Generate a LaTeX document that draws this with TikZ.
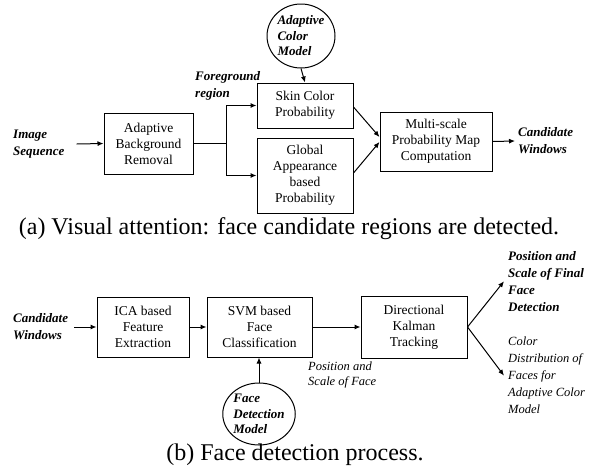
\documentclass[tikz,border=0pt]{standalone}
\usepackage{fontspec}
\setmainfont{Liberation Serif}
\usetikzlibrary{positioning,calc,shapes.geometric,arrows.meta}

\begin{document}
\begin{tikzpicture}[%
      x=1pt, y=-1pt,
      block/.style={rectangle, draw=black, line width=1pt, align=center, font=\fontsize{13.5}{16}\selectfont, inner sep=2pt},
      model/.style={ellipse, draw=black, line width=1pt, align=left, font=\fontsize{13}{15.5}\selectfont\bfseries\itshape, inner sep=0pt, minimum width=68pt, minimum height=64pt},
      bnote/.style={align=left, font=\fontsize{13}{17}\selectfont\bfseries\itshape, inner sep=0pt},
      note/.style={align=left, font=\fontsize{12.5}{15}\selectfont\itshape, inner sep=0pt},
      capt/.style={font=\fontsize{24}{27}\selectfont, inner sep=0pt},
      arrow/.style={-{Latex[length=6pt,width=5pt]}, line width=1pt, black}
    ]
      \useasboundingbox (0,0) rectangle (599,469);

      % Nodes (a)
      \node[model] (acm) at (301,36) {Adaptive\\Color\\Model};
      \node[block, minimum width=96pt, minimum height=45pt] (skin) at (305,105.5) {Skin Color\\Probability};
      \node[block, minimum width=96pt, minimum height=75pt] (glob) at (305,175.5) {Global\\Appearance\\based\\Probability};
      \node[block, minimum width=89pt, minimum height=61pt] (abr) at (148.5,143.5) {Adaptive\\Background\\Removal};
      \node[block, minimum width=112pt, minimum height=59pt] (msp) at (436,141.5) {Multi-scale\\Probability Map\\Computation};
      \node[bnote, anchor=west] (imgseq) at (13,144) {Image\\Sequence};
      \node[bnote, anchor=west] (fg) at (195,86) {Foreground\\region};
      \node[bnote, anchor=west] (cwa) at (518,141) {Candidate\\Windows};
      \coordinate (jn) at (226,143.5);
      \node[capt] (capa) at (289,229) {(a) Visual attention: face candidate regions are detected.};

      % Connections (a)
      \draw[arrow] ([xshift=12pt]imgseq.east) -- (abr.west);
      \draw[line width=1pt] (abr.east) -- (jn);
      \draw[arrow] (jn) |- (skin.west);
      \draw[arrow] (jn) |- (glob.west);
      \draw[arrow] (acm.south) -- (skin.north);
      \draw[arrow] ([yshift=-1.5pt]skin.east) -- ([yshift=4.5pt]msp.west);
      \draw[arrow] ([yshift=2.5pt]glob.east) -- ([yshift=-0.5pt]msp.west);
      \draw[arrow] (msp.east) -- ([xshift=-3pt]cwa.west);

      % Nodes (b)
      \node[bnote, anchor=west] (cwb) at (13,327) {Candidate\\Windows};
      \node[block, minimum width=92pt, minimum height=60pt] (ica) at (143,327) {ICA based\\Feature\\Extraction};
      \node[block, minimum width=105pt, minimum height=60pt] (svm) at (259.5,327) {SVM based\\Face\\Classification};
      \node[block, minimum width=106pt, minimum height=62pt] (dkt) at (414,327) {Directional\\Kalman\\Tracking};
      \node[model, minimum width=72pt, minimum height=62pt] (fdm) at (259,414) {Face\\Detection\\Model};
      \node[note, anchor=north west] (posface) at (308,362) {Position and\\Scale of Face};
      \node[bnote, anchor=north west] (final) at (508,251) {Position and\\Scale of Final\\Face\\Detection};
      \node[note, anchor=north west, font=\fontsize{12.5}{17}\selectfont\itshape] (cdist) at (508,337) {Color\\Distribution of\\Faces for\\Adaptive Color\\Model};
      \node[capt] (capb) at (295,455) {(b) Face detection process.};

      % Connections (b)
      \draw[arrow] ([xshift=6pt]cwb.east) -- (ica.west);
      \draw[arrow] (ica) -- (svm);
      \draw[arrow] (svm) -- (dkt);
      \draw[arrow] (fdm.north) -- (fdm.north |- svm.south);
      \draw[arrow] (dkt.east) -- ([xshift=-4pt]final.west);
      \draw[arrow] (dkt.east) -- ([xshift=-4pt]cdist.west);
    \end{tikzpicture}
\end{document}
